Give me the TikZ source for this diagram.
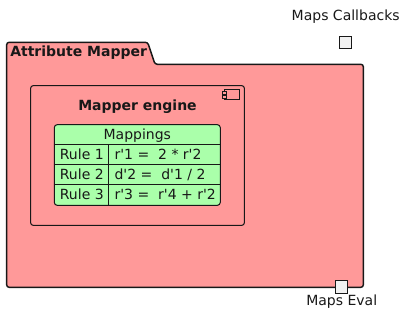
\documentclass[tikz,border=0pt]{standalone}
\usepackage{fontspec}
\setmainfont{DejaVu Sans}
\usepackage{xcolor}
\usepackage{tikz}
\definecolor{pkgred}{HTML}{FF9999}
\definecolor{mapgreen}{HTML}{AAFFAA}
\definecolor{portgray}{HTML}{F1F1F1}
\definecolor{ink}{HTML}{181818}
\newcommand{\pr}{\textquotesingle}

\begin{document}
\begin{tikzpicture}[x=0.75pt, y=-0.75pt, font=\fontsize{10.5}{12}\selectfont,
  lbl/.style={inner sep=0pt, anchor=base, text=ink},
  port/.style={draw=ink, fill=portgray, line width=0.75pt, minimum size=9.4pt, inner sep=0pt}]
  \useasboundingbox (0,0) rectangle (405,313);
  % package with tab
  \draw[draw=ink, fill=pkgred, line width=1.1pt, rounded corners=1.8pt]
    (6.7,287.3) -- (6.7,42.3) -- (147.7,42.3) -- (155,64.3) -- (363.3,64.3) -- (363.3,287.3) -- cycle;
  \node[lbl, anchor=base west] (pkgtitle) at (10,56.7) {\bfseries Attribute Mapper};
  % component
  \node[draw=ink, line width=0.8pt, rounded corners=1.8pt, minimum width=160.2pt, minimum height=104.7pt,
        inner sep=0pt] (engine) at (137.5,155.5) {};
  \node[lbl] (enginetitle) at (137.5,111) {\bfseries Mapper engine};
  \draw[draw=ink, line width=0.75pt] (224.3,90) rectangle (239.3,99.3);
  \draw[draw=ink, fill=pkgred, line width=0.6pt] (222.3,91.8) rectangle (226.3,94.6);
  \draw[draw=ink, fill=pkgred, line width=0.6pt] (222.3,95.6) rectangle (226.3,98.4);
  % mappings table
  \node[draw=ink, fill=mapgreen, line width=0.75pt, rounded corners=2.2pt, minimum width=124.5pt,
        minimum height=60.5pt, inner sep=0pt] (maptab) at (137.3,165) {};
  \draw[draw=ink, line width=0.75pt] (maptab.west |- 0,144.7) -- (maptab.east |- 0,144.7);
  \draw[draw=ink, line width=0.75pt] (maptab.west |- 0,164.7) -- (maptab.east |- 0,164.7);
  \draw[draw=ink, line width=0.75pt] (maptab.west |- 0,184.7) -- (maptab.east |- 0,184.7);
  \draw[draw=ink, line width=0.75pt] (108.7,144.7) -- (maptab.south -| 108.7,0);
  \node[lbl] (maphead) at (137.3,139.3) {Mappings};
  \node[lbl] (rulea) at (81.8,159.3) {Rule 1};
  \node[lbl] (ruleb) at (81.8,179.7) {Rule 2};
  \node[lbl] (rulec) at (81.8,199.8) {Rule 3};
  \node[lbl, anchor=base west] (exa) at (114.3,159.3) {r\pr1 =\ \ 2 * r\pr2};
  \node[lbl, anchor=base west] (exb) at (114.3,179.7) {d\pr2 =\ \ d\pr1 / 2};
  \node[lbl, anchor=base west] (exc) at (114.3,199.8) {r\pr3 =\ \ r\pr4 + r\pr2};
  % ports
  \node[port] (cbport) at (345.3,42.7) {};
  \node[lbl] (cblabel) at (345.7,20.7) {Maps Callbacks};
  \node[port] (evport) at (341.5,287.2) {};
  \node[lbl] (evlabel) at (341.7,306) {Maps Eval};
\end{tikzpicture}
\end{document}
